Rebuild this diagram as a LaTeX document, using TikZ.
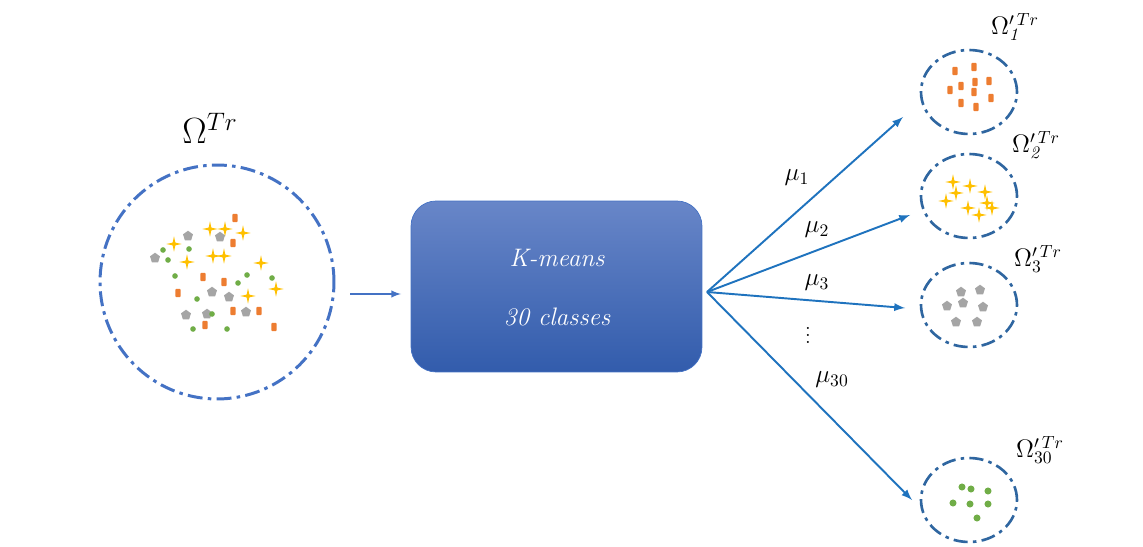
\documentclass[tikz,border=0pt]{standalone}
\usepackage{amsmath,amssymb}
\usepackage{tikz}
\usetikzlibrary{positioning}
\usetikzlibrary{shapes.geometric}
\pgfdeclarelayer{background}
\pgfdeclarelayer{foreground}
\pgfsetlayers{background,main,foreground}
\definecolor{setblue}{RGB}{68,114,196}
\definecolor{subblue}{RGB}{47,102,160}
\definecolor{arrowblue}{RGB}{31,115,190}
\definecolor{boxtop}{RGB}{104,134,200}
\definecolor{boxbottom}{RGB}{50,92,172}
\definecolor{ptorange}{RGB}{237,125,49}
\definecolor{ptyellow}{RGB}{255,192,0}
\definecolor{ptgray}{RGB}{165,165,165}
\definecolor{ptgreen}{RGB}{112,173,71}

\begin{document}
\begin{tikzpicture}[x=0.02cm, y=-0.02cm,
					setnode/.style={circle, draw=setblue, line width=1.7pt, dash pattern=on 8.5pt off 3pt on 2pt off 3pt, minimum size=4.68cm},
					subnode/.style={ellipse, draw=subblue, line width=1.5pt, dash pattern=on 8pt off 3pt on 2pt off 3pt, minimum width=1.92cm, minimum height=1.68cm},
					boxnode/.style={rectangle, rounded corners=0.5cm, draw=setblue, top color=boxtop, bottom color=boxbottom, minimum width=5.82cm, minimum height=3.42cm},
					boxtext/.style={text=white, font=\Large\itshape},
					orangept/.style={rectangle, rounded corners=0.6pt, fill=ptorange, inner sep=0pt, minimum width=3pt, minimum height=4.8pt},
					yellowpt/.style={star, star points=4, star point ratio=0.25, shape border rotate=45, fill=ptyellow, inner sep=0pt, minimum size=2.2pt},
					graypt/.style={regular polygon, regular polygon sides=5, fill=ptgray, inner sep=0pt, minimum size=6pt},
					greenpt/.style={circle, fill=ptgreen, inner sep=0pt, minimum size=3.2pt},
					flow/.style={->, >=latex, arrowblue, line width=1.1pt},
					]
					\useasboundingbox (0,0) rectangle (1143,547);
					%Sets
					\node[setnode]      (set)      at  (217,282)   {};
					\node               (setlab)   at  (210,128)   {\fontsize{20}{24}\selectfont $\Omega^{Tr}$};
					\node[boxnode]      (kmeans)   at  (556.5,286.5) {};
					\node[boxtext]      (ktext)    at  (557,258)   {K-means};
					\node[boxtext]      (ctext)    at  (557,317)   {30 classes};
					\node[subnode]      (s1)       at  (969,92)    {};
					\node[subnode]      (s2)       at  (969,196)   {};
					\node[subnode]      (s3)       at  (969,305)   {};
					\node[subnode]      (s30)      at  (969,500)   {};
					\node               (s1lab)    at  (1015,27)   {\Large $\Omega^{\prime\,Tr}_{\mathit{1}}$};
					\node               (s2lab)    at  (1036,145)  {\Large $\Omega^{\prime\,Tr}_{\mathit{2}}$};
					\node               (s3lab)    at  (1038,259)  {\Large $\Omega^{\prime\,Tr}_{3}$};
					\node               (s30lab)   at  (1040,450)  {\Large $\Omega^{\prime\,Tr}_{30}$};
					
					%Points of the whole set
					\foreach \x/\y [count=\i] in {235/218,233/243,203/277,224/282,178/293,233/311,259/311,205/325,274/327}
						\node[orangept] (lo\i) at (\x,\y) {};
					\foreach \x/\y [count=\i] in {210/229,225/229,243/233,174/244,187/262,213/256,224/256,261/263,276/289,248/296}
						\node[yellowpt] (ly\i) at (\x,\y) {};
					\foreach \x/\y [count=\i] in {188/236,220/237,155/258,212/292,229/297,186/315,207/314,246/312}
						\node[graypt] (lg\i) at (\x,\y) {};
					\foreach \x/\y [count=\i] in {163/250,189/249,168/260,175/276,247/275,238/283,272/278,197/299,212/314,193/329,227/329}
						\node[greenpt] (lc\i) at (\x,\y) {};
					
					%Points of the classes
					\foreach \x/\y [count=\i] in {955/71,974/67,975/82,989/81,961/86,950/90,974/92,991/98,961/103,976/107}
						\node[orangept] (ro\i) at (\x,\y) {};
					\foreach \x/\y [count=\i] in {953/182,970/186,956/193,985/192,946/201,987/203,968/208,992/208,979/215}
						\node[yellowpt] (ry\i) at (\x,\y) {};
					\foreach \x/\y [count=\i] in {961/292,980/290,947/306,963/303,983/307,956/322,977/322}
						\node[graypt] (rg\i) at (\x,\y) {};
					\foreach \x/\y [count=\i] in {962/487,971/489,988/491,953/503,970/504,988/504,977/518}
						\node[greenpt, minimum size=4pt] (rc\i) at (\x,\y) {};
					
					%Labels
					\node (mu1)   at (797,178) {\Large $\mu_1$};
					\node (mu2)   at (817,230) {\Large $\mu_2$};
					\node (mu3)   at (817,283) {\Large $\mu_3$};
					\node (mudots) at (808,330) {\large $\vdots$};
					\node (mu30)  at (832,380) {\Large $\mu_{30}$};
					
					\coordinate (fork) at (707,292);
					\coordinate (t1)   at (903,117);
					\coordinate (t2)   at (910,215);
					\coordinate (t3)   at (905,308);
					\coordinate (t30)  at (912,500);
					\coordinate (in0)  at (350,294);
					\coordinate (in1)  at (401,294);
					
					\begin{pgfonlayer}{background}
					%Lines
					\draw[flow, line width=0.9pt, setblue] (in0) -- (in1);
					\draw[flow] (fork) -- (t1);
					\draw[flow] (fork) -- (t2);
					\draw[flow] (fork) -- (t3);
					\draw[flow] (fork) -- (t30);
					\end{pgfonlayer}
				\end{tikzpicture}
\end{document}
